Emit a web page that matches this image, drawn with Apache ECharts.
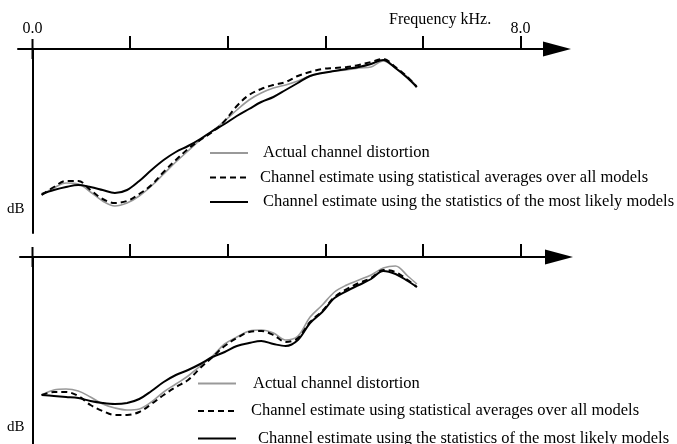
<!DOCTYPE html>
<html><head><meta charset="utf-8">
<script src="https://cdn.jsdelivr.net/npm/echarts@6/dist/echarts.min.js"></script>
<style>html,body{margin:0;padding:0;background:#fff}#c{width:677px;height:444px}</style>
</head><body><div id="c"></div>
<script>
// Frequency sample points (kHz)
const freq = [0.15,0.35,0.55,0.75,0.95,1.15,1.35,1.55,1.75,1.95,2.15,2.35,2.55,2.75,2.95,3.15,3.35,3.55,3.75,3.95,4.15,4.35,4.55,4.75,4.95,5.15,5.35,5.55,5.75,5.95,6.15,6.3];

// Upper panel (dB)
const topActual = [-14.6,-13.9,-13.4,-13.5,-14.3,-15.2,-15.7,-15.4,-14.7,-13.7,-12.5,-11.3,-10.2,-9.1,-8.2,-7.2,-6.1,-5.1,-4.4,-3.9,-3.6,-3.2,-2.7,-2.4,-2.2,-2.1,-1.9,-1.8,-1.2,-1.9,-2.8,-3.7];
const topAverage = [-14.6,-13.8,-13.2,-13.2,-14.1,-15.0,-15.4,-15.2,-14.5,-13.6,-12.3,-11.1,-10.0,-9.1,-8.3,-7.2,-5.7,-4.6,-4.0,-3.6,-3.3,-2.7,-2.3,-2.0,-1.9,-1.8,-1.6,-1.3,-1.0,-1.8,-2.8,-3.8];
const topLikely = [-14.5,-14.1,-13.8,-13.6,-13.8,-14.1,-14.4,-14.1,-13.2,-12.1,-11.1,-10.3,-9.7,-9.0,-8.2,-7.5,-6.7,-6.0,-5.3,-4.8,-4.1,-3.4,-2.7,-2.4,-2.2,-2.0,-1.8,-1.5,-1.1,-1.9,-2.9,-3.8];

// Lower panel (dB)
const botActual = [-13.8,-13.3,-13.2,-13.4,-14.0,-14.7,-15.1,-15.3,-15.2,-14.5,-13.5,-12.7,-11.9,-10.9,-9.9,-8.7,-8.0,-7.4,-7.3,-7.6,-8.3,-7.9,-6.0,-4.8,-3.5,-2.8,-2.3,-1.8,-1.1,-0.9,-1.9,-2.7];
const botAverage = [-13.8,-13.5,-13.5,-13.9,-14.8,-15.4,-15.8,-15.8,-15.5,-14.7,-13.8,-13.0,-12.3,-11.1,-10.0,-8.9,-8.1,-7.5,-7.4,-7.8,-8.5,-8.1,-6.5,-5.4,-4.0,-3.2,-2.6,-2.1,-1.3,-1.5,-2.3,-3.0];
const botLikely = [-13.8,-13.9,-14.0,-14.1,-14.4,-14.6,-14.7,-14.6,-14.2,-13.4,-12.5,-11.8,-11.3,-10.7,-10.0,-9.5,-8.9,-8.6,-8.4,-8.7,-8.9,-8.3,-6.6,-5.5,-4.1,-3.4,-2.8,-2.2,-1.4,-1.7,-2.4,-3.0];

const seriesNames = [
  'Actual channel distortion',
  'Channel estimate using statistical averages over all models',
  'Channel estimate using the statistics of the most likely models'
];
const xTickValues = [1.6, 3.2, 4.8, 6.4, 8.0];
const xLabelValues = [0.0, 8.0];
const xAxisName = 'Frequency kHz.';
const yAxisName = 'dB';

const FONT = 'Liberation Serif';
const pairs = v => freq.map((f, i) => [f, v[i]]);

function xAxisCfg(gi, min, max, showLabels) {
  return {
    gridIndex: gi, type: 'value', min: min, max: max, position: 'top',
    axisLine: { onZero: false, symbol: ['none', 'triangle'], symbolSize: [15, 28],
      lineStyle: { color: '#000', width: 2 } },
    axisTick: { show: true, inside: false, length: 13, customValues: xTickValues,
      lineStyle: { color: '#000', width: 2 } },
    axisLabel: { show: showLabels, inside: false, margin: 12, customValues: xLabelValues,
      formatter: v => v.toFixed(1), color: '#000', fontFamily: FONT, fontSize: 16 },
    splitLine: { show: false }
  };
}
function yAxisCfg(gi, min, max) {
  return {
    gridIndex: gi, type: 'value', min: min, max: max,
    axisLine: { show: true, onZero: true, symbol: ['none', 'rect'], symbolSize: [2, 20],
      lineStyle: { color: '#000', width: 2 } },
    axisTick: { show: false }, axisLabel: { show: false }, splitLine: { show: false }
  };
}
const styles = [
  { color: '#999999', width: 1.6, type: 'solid' },
  { color: '#000000', width: 2, type: [6, 4] },
  { color: '#000000', width: 2, type: 'solid' }
];
function mk(gi, idx, vals) {
  return {
    name: seriesNames[idx], type: 'line', xAxisIndex: gi, yAxisIndex: gi,
    data: pairs(vals), showSymbol: false, symbol: 'none', smooth: 0.35,
    lineStyle: styles[idx], itemStyle: { color: styles[idx].color }, z: 2 + idx
  };
}
function legendCfg(left, top, gap, pads) {
  return {
    orient: 'vertical', left: left, top: top, height: 90, padding: 0,
    itemWidth: 38, itemHeight: 14, itemGap: gap,
    selectedMode: false,
    itemStyle: { opacity: 0 },
    textStyle: { fontFamily: FONT, fontSize: 16.5, color: '#000' },
    data: seriesNames.map((n, i) => ({ name: n, textStyle: { padding: [0, 0, 0, pads[i]] } }))
  };
}

const chart = echarts.init(document.getElementById('c'), null, { renderer: 'canvas' });
chart.setOption({
  backgroundColor: '#fff',
  animation: false,
  grid: [
    { left: 18, right: 120, top: 49, height: 184 },
    { left: 20, right: 118, top: 257, height: 187 }
  ],
  xAxis: [xAxisCfg(0, -0.238, 8.6, true), xAxisCfg(1, -0.205, 8.63, false)],
  yAxis: [yAxisCfg(0, -18.4, 0), yAxisCfg(1, -18.7, 0)],
  legend: [legendCfg(209, 144.5, 7.5, [10, 7, 10]), legendCfg(197, 375, 10.5, [12, 10, 17])],
  graphic: [
    { type: 'text', left: 389, top: 12, style: { text: xAxisName, font: '16px "Liberation Serif"', fill: '#000' } },
    { type: 'text', left: 7, top: 202, style: { text: yAxisName, font: '15px "Liberation Serif"', fill: '#000' } },
    { type: 'text', left: 7, top: 420, style: { text: yAxisName, font: '15px "Liberation Serif"', fill: '#000' } }
  ],
  series: [
    mk(0, 0, topActual), mk(0, 1, topAverage), mk(0, 2, topLikely),
    mk(1, 0, botActual), mk(1, 1, botAverage), mk(1, 2, botLikely)
  ]
});
</script></body></html>
